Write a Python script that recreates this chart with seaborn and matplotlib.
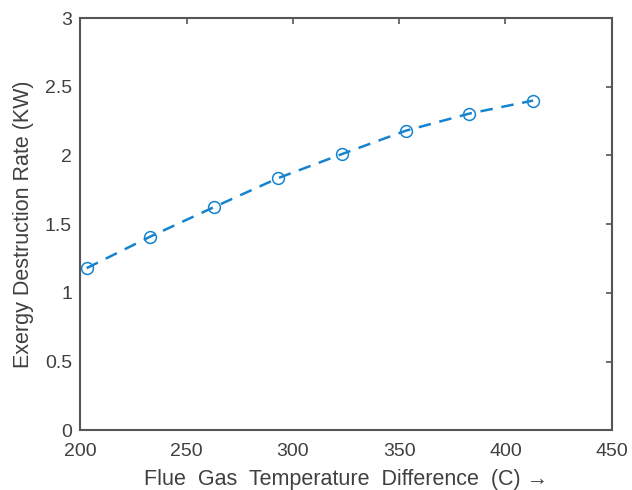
import numpy as np
import pandas as pd
import matplotlib as mpl
mpl.use("Agg")
import matplotlib.pyplot as plt
import seaborn as sns

# data
temp_diff = [203, 233, 263, 293, 323, 353, 383, 413]
exergy_rate = [1.18, 1.41, 1.625, 1.835, 2.01, 2.18, 2.305, 2.40]

xticks = [200, 250, 300, 350, 400, 450]
yticks = [0, 0.5, 1, 1.5, 2, 2.5, 3]

df = pd.DataFrame({"x": temp_diff, "y": exergy_rate})

sns.set_style("white")
plt.rcParams['font.family'] = ['Liberation Sans', 'DejaVu Sans']

edge = "#555555"
txt = "#404040"
blue = "#1583cf"

fig = plt.figure(figsize=(6.32, 4.90), dpi=100)
ax = fig.add_axes([0.127, 0.122, 0.841, 0.841])

sns.lineplot(data=df, x="x", y="y", ax=ax, color=blue, linestyle=(0, (5, 3.5)),
             linewidth=1.8, marker="o", markersize=8.5, markerfacecolor="none",
             markeredgecolor=blue, markeredgewidth=1.1)

ax.set_xlim(200, 450)
ax.set_ylim(0, 3)
ax.set_xticks(xticks)
ax.set_yticks(yticks)
ax.set_xticklabels([str(t) for t in xticks])
ax.set_yticklabels(["0", "0.5", "1", "1.5", "2", "2.5", "3"])

ax.tick_params(direction="in", length=4, width=1.2, colors=edge,
               labelcolor=txt, labelsize=14, top=True, right=True)
ax.tick_params(axis="x", pad=9)
ax.tick_params(axis="y", pad=6)
for s in ax.spines.values():
    s.set_visible(True)
    s.set_color(edge)
    s.set_linewidth(1.5)

ax.set_xlabel("Flue  Gas  Temperature  Difference  (C) \u2192", fontsize=15.5,
              color=txt, labelpad=7)
ax.set_ylabel("Exergy Destruction Rate (KW)", fontsize=15.5, color=txt,
              labelpad=8)

fig.savefig("out.png", dpi=100, facecolor="white")
